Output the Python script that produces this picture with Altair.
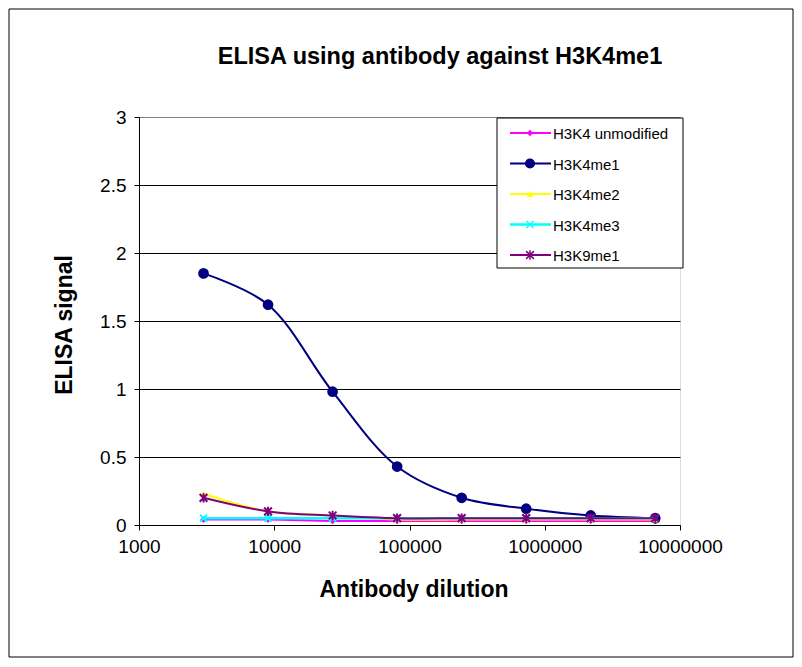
import pandas as pd
import altair as alt

# antibody dilution (x) and ELISA signal per peptide
dilution = [3000, 9000, 27000, 81000, 243000, 729000, 2187000, 6561000]
h3k4_unmod = [0.04, 0.04, 0.03, 0.03, 0.03, 0.03, 0.03, 0.03]
h3k4me1 = [1.85, 1.62, 0.98, 0.43, 0.20, 0.12, 0.07, 0.05]
h3k4me2 = [0.23, 0.10, 0.07, 0.04, 0.04, 0.04, 0.04, 0.04]
h3k4me3 = [0.05, 0.05, 0.05, 0.05, 0.05, 0.05, 0.05, 0.05]
h3k9me1 = [0.20, 0.10, 0.07, 0.05, 0.05, 0.05, 0.05, 0.05]

series_names = ["H3K4 unmodified", "H3K4me1", "H3K4me2", "H3K4me3", "H3K9me1"]
series_values = [h3k4_unmod, h3k4me1, h3k4me2, h3k4me3, h3k9me1]

x_ticks = [1000, 10000, 100000, 1000000, 10000000]
y_ticks = [0, 0.5, 1, 1.5, 2, 2.5, 3]

X_PATH = "M-1,-1L1,1M-1,1L1,-1"
STAR_PATH = "M-1,-1L1,1M-1,1L1,-1M0,-1.2L0,1.2"

# colour, marker shape, marker size, filled marker?, line width
styles = {
    "H3K4 unmodified": ("#FF00FF", "diamond", 45, True, 2),
    "H3K4me1": ("#000080", "circle", 115, True, 2),
    "H3K4me2": ("#FFFF00", "triangle-up", 50, True, 2),
    "H3K4me3": ("#00FFFF", X_PATH, 50, False, 2.5),
    "H3K9me1": ("#800080", STAR_PATH, 60, False, 2),
}

FONT = "Liberation Sans"

x_enc = alt.X(
    "dilution:Q",
    scale=alt.Scale(type="log", domain=[1000, 10000000]),
    axis=alt.Axis(
        values=x_ticks,
        format="d",
        title=None,
        grid=False,
        domainColor="black",
        tickColor="black",
        tickSize=5,
        labelFontSize=19,
        labelColor="black",
        labelPadding=7,
        labelFlush=False,
    ),
)
y_enc = alt.Y(
    "signal:Q",
    scale=alt.Scale(domain=[0, 3], nice=False),
    axis=alt.Axis(
        values=y_ticks,
        format="~g",
        title=None,
        grid=True,
        gridColor={"condition": {"test": "datum.value >= 3", "value": "#808080"}, "value": "black"},
        gridOpacity=1,
        domainColor="black",
        tickColor="black",
        tickSize=5,
        labelFontSize=19,
        labelColor="black",
        labelPadding=8,
    ),
)

layers = []
one = pd.DataFrame({"t": [0]})

# outer frame of the figure
layers.append(
    alt.Chart(one)
    .mark_rect(fillOpacity=0, stroke="black", strokeWidth=1)
    .encode(x=alt.value(-130), x2=alt.value(654), y=alt.value(-108), y2=alt.value(540))
)

for name, vals in zip(series_names, series_values):
    color, shape, size, filled, lw = styles[name]
    df = pd.DataFrame({"dilution": dilution, "signal": vals, "series": name})
    line = alt.Chart(df).mark_line(
        color=color, strokeWidth=lw, interpolate="catmull-rom"
    ).encode(x=x_enc, y=y_enc)
    if filled:
        pts = alt.Chart(df).mark_point(
            shape=shape, size=size, filled=True, fill=color, opacity=1, strokeWidth=0
        )
    else:
        pts = alt.Chart(df).mark_point(
            shape=shape, size=size, filled=False, stroke=color, opacity=1, strokeWidth=2
        )
    layers += [line, pts.encode(x=x_enc, y=y_enc)]

# legend box
layers.append(
    alt.Chart(one)
    .mark_rect(fill="white", stroke="black", strokeWidth=1)
    .encode(x=alt.value(358), x2=alt.value(544), y=alt.value(1), y2=alt.value(151))
)
for i, name in enumerate(series_names):
    color, shape, size, filled, lw = styles[name]
    yy = 16 + i * 30.5
    layers.append(
        alt.Chart(one)
        .mark_rule(color=color, strokeWidth=lw)
        .encode(x=alt.value(371), x2=alt.value(412), y=alt.value(yy))
    )
    if filled:
        sym = alt.Chart(one).mark_point(
            shape=shape, size=size * 0.9, filled=True, fill=color, opacity=1, strokeWidth=0
        )
    else:
        sym = alt.Chart(one).mark_point(
            shape=shape, size=size, filled=False, stroke=color, opacity=1, strokeWidth=1.5
        )
    layers.append(sym.encode(x=alt.value(391), y=alt.value(yy)))
    layers.append(
        alt.Chart(one)
        .mark_text(text=name, align="left", baseline="middle", font=FONT, fontSize=15, color="black")
        .encode(x=alt.value(414), y=alt.value(yy + 1))
    )

# titles
layers.append(
    alt.Chart(one)
    .mark_text(
        text="ELISA  using antibody against H3K4me1",
        align="center", baseline="middle", font=FONT, fontSize=23.5, fontWeight="bold", color="black",
    )
    .encode(x=alt.value(301), y=alt.value(-60))
)
layers.append(
    alt.Chart(one)
    .mark_text(
        text="ELISA signal", angle=270,
        align="center", baseline="middle", font=FONT, fontSize=23, fontWeight="bold", color="black",
    )
    .encode(x=alt.value(-74), y=alt.value(208))
)
layers.append(
    alt.Chart(one)
    .mark_text(
        text="Antibody dilution",
        align="center", baseline="middle", font=FONT, fontSize=23, fontWeight="bold", color="black",
    )
    .encode(x=alt.value(275), y=alt.value(473))
)

chart = (
    alt.layer(*layers)
    .properties(
        width=541,
        height=408,
        autosize=alt.AutoSizeParams(type="none"),
        padding={"left": 131, "top": 109, "right": 114, "bottom": 134},
    )
    .configure_view(stroke="#808080", strokeWidth=1)
    .configure(font=FONT)
)

chart.save("out.html", embed_options={"renderer": "svg", "actions": False})
